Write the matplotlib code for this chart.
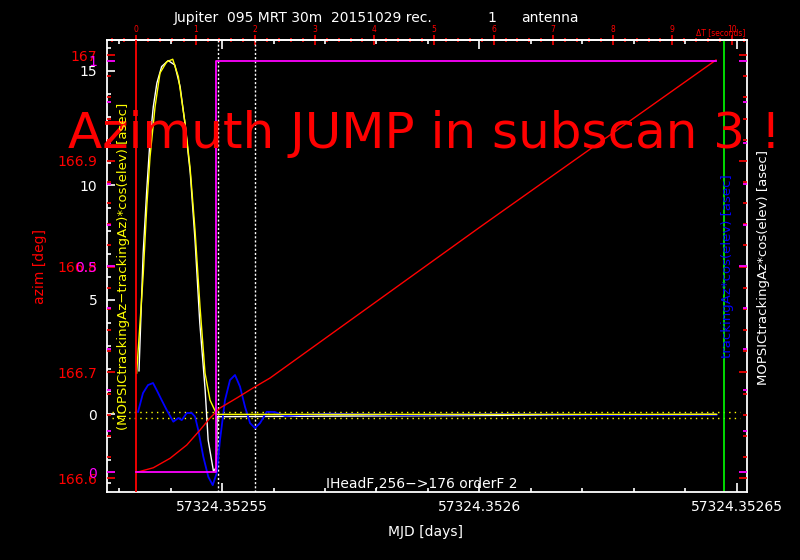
import matplotlib
matplotlib.use("Agg")
import matplotlib.pyplot as plt
from matplotlib.ticker import MultipleLocator, FixedLocator, FixedFormatter, FuncFormatter

# ---------------- data ----------------
mjd_start = 57324.3525333          # MJD at deltaT = 0 s
mjd_major = [57324.35255, 57324.3526, 57324.35265]
mjd_major_labels = ["57324.35255", "57324.3526", "57324.35265"]
mjd_minor_step = 0.00001
dt_ticks = list(range(0, 11))

# MOPSICtrackingAz*cos(elev) [asec]  (white)
white_t = [0.05, 0.12, 0.18, 0.235, 0.29, 0.35, 0.43, 0.54, 0.65, 0.74, 0.82, 0.91,
           0.99, 1.07, 1.16, 1.21, 1.30, 1.35, 1.36, 9.73]
white_v = [1.9, 7.05, 9.80, 11.98, 13.44, 14.47, 15.19, 15.45, 15.26, 14.31, 12.73, 10.54,
           7.61, 3.99, 1.06, -1.12, -2.49, -2.30, -0.10, 0.0]

# (MOPSICtrackingAz-trackingAz)*cos(elev) [asec]  (yellow)
yellow_t = [0.01, 0.067, 0.122, 0.18, 0.235, 0.319, 0.403, 0.515, 0.616, 0.71, 0.822,
            0.906, 0.99, 1.074, 1.158, 1.242, 1.354, 9.743]
yellow_v = [1.80, 3.99, 6.17, 9.06, 11.24, 13.43, 14.91, 15.40, 15.51, 14.75, 12.73,
            10.80, 8.05, 4.69, 1.80, 0.62, 0.0, 0.0]

# trackingAz*cos(elev) [asec]  (blue)
blue_t = [0.034, 0.117, 0.201, 0.285, 0.347, 0.431, 0.515, 0.626, 0.710, 0.767, 0.851,
          0.935, 0.990, 1.045, 1.129, 1.213, 1.287, 1.354, 1.409, 1.493, 1.577, 1.661,
          1.745, 1.829, 1.913, 1.997, 2.081, 2.193, 2.33, 2.50, 2.75, 3.26, 4.43, 6.11,
          7.79, 9.74]
blue_v = [0.11, 0.93, 1.28, 1.37, 1.06, 0.62, 0.19, -0.32, -0.16, -0.25, 0.06,
          0.06, -0.10, -0.69, -1.85, -2.73, -3.09, -2.56, -1.12, 0.62, 1.50, 1.72,
          1.21, 0.33, -0.38, -0.60, -0.38, 0.11, 0.10, -0.07, -0.03, 0.03, -0.03, 0.01,
          -0.03, -0.02]

# azim [deg]  (red)
red_t = [0.01, 0.29, 0.57, 0.851, 1.074, 1.242, 1.409, 1.690, 1.963, 2.248, 5.772, 9.732]
red_az = [166.6056, 166.6099, 166.6188, 166.6314, 166.6456, 166.6569, 166.6664,
          166.6758, 166.6853, 166.6947, 166.8374, 166.9953]

# subscan flag (magenta)
mag_t = [0.0, 1.342, 1.342, 9.732]
mag_v = [0, 0, 1, 1]
mag_ticks = [0, 0.5, 1]
mag_labels = ["0", "0.5", "1"]

tol_levels = [0.1, -0.15]
dotted_t = [1.381, 2.0]
start_t = 0.0
end_t = 9.871

# ---------------- figure ----------------
W, H = 800, 560
fig = plt.figure(figsize=(W / 100, H / 100), dpi=100, facecolor="black")
ax = fig.add_axes([107 / W, 68 / H, 640 / W, 452 / H])
ax.set_facecolor("black")
for s in ax.spines.values():
    s.set_color("white")
    s.set_linewidth(1.3)

xmin, xmax = -0.487, 10.252
ax.set_xlim(xmin, xmax)
ax.set_ylim(-3.39, 16.35)

def mjd2t(m):
    return (m - mjd_start) * 86400.0

maj = [mjd2t(m) for m in mjd_major]
minor = []
m = 57324.35253
while m < 57324.352652:
    tt = mjd2t(m)
    if xmin < tt < xmax:
        minor.append(tt)
    m += mjd_minor_step
ax.xaxis.set_major_locator(FixedLocator(maj))
ax.xaxis.set_major_formatter(FixedFormatter(mjd_major_labels))
ax.xaxis.set_minor_locator(FixedLocator(minor))
ax.tick_params(axis="x", which="both", direction="in", colors="white", top=True,
               bottom=True, labeltop=False, labelsize=10, pad=6)
ax.tick_params(axis="x", which="major", length=6.5, width=1.2)
ax.tick_params(axis="x", which="minor", length=3, width=1.2)

ax.yaxis.set_major_locator(MultipleLocator(5))
ax.yaxis.set_minor_locator(MultipleLocator(1))
ax.tick_params(axis="y", which="both", direction="in", colors="white", left=True,
               right=True, labelleft=True, labelright=False, labelsize=10, pad=7)
ax.tick_params(axis="y", which="major", length=5.5, width=1.2)
ax.tick_params(axis="y", which="minor", length=3, width=1.2)

# top axis : delta T seconds
sec = ax.secondary_xaxis("top")
sec.xaxis.set_major_locator(FixedLocator(dt_ticks))
sec.xaxis.set_minor_locator(MultipleLocator(0.2))
sec.tick_params(axis="x", which="both", direction="inout", colors="red", labelsize=5.5, pad=0.5)
sec.tick_params(axis="x", which="major", length=7, width=1.2)
sec.tick_params(axis="x", which="minor", length=3.5, width=1.2)
sec.spines["top"].set_color("white")
sec.spines["top"].set_linewidth(1.3)

# curves on main axis
ax.hlines(tol_levels, -0.40, 10.13, colors="yellow", linestyles=(0, (1, 3)), lw=1)
for d in dotted_t:
    ax.axvline(d, color="white", ls=(0, (1.5, 1.5)), lw=1)
ax.plot(white_t, white_v, color="white", lw=1)
ax.plot(blue_t, blue_v, color="#0000ff", lw=1.3)
ax.plot(yellow_t, yellow_v, color="yellow", lw=1)
ax.axvline(end_t, color="#00ff00", lw=1.2)

# red azim axis
axr = ax.twinx()
axr.set_ylim(166.587, 167.0142)
axr.yaxis.tick_left()
axr.yaxis.set_major_locator(MultipleLocator(0.1))
axr.yaxis.set_minor_locator(MultipleLocator(0.02))
axr.yaxis.set_major_formatter(FuncFormatter(lambda v, p: f"{v:.1f}".rstrip("0").rstrip(".")))
axr.tick_params(axis="y", which="both", direction="in", colors="red", left=True, right=True,
                labelleft=True, labelright=False, labelsize=10, pad=7)
axr.tick_params(axis="y", which="major", length=5.5, width=1.2)
axr.tick_params(axis="y", which="minor", length=3, width=1.2)
for s in axr.spines.values():
    s.set_visible(False)
axr.plot(red_t, red_az, color="red", lw=1)
axr.axvline(start_t, color="red", lw=1.3)

# magenta axis
axm = ax.twinx()
axm.set_ylim(-0.0479, 1.0503)
axm.yaxis.tick_left()
axm.yaxis.set_major_locator(FixedLocator(mag_ticks))
axm.yaxis.set_major_formatter(FixedFormatter(mag_labels))
axm.yaxis.set_minor_locator(MultipleLocator(0.1))
axm.tick_params(axis="y", which="both", direction="in", colors="magenta", left=True, right=True,
                labelleft=True, labelright=False, labelsize=10, pad=7)
axm.tick_params(axis="y", which="major", length=5.5, width=1.3)
axm.tick_params(axis="y", which="minor", length=3, width=1.3)
for s in axm.spines.values():
    s.set_visible(False)
axm.plot(mag_t, mag_v, color="magenta", lw=1.3)

# ---------------- texts ----------------
def fx(px):
    return px / W

def fy(py):
    return 1 - py / H

fig.text(fx(174), fy(18), "Jupiter  095 MRT 30m  20151029 rec.", color="white",
         fontsize=10, ha="left", va="center")
fig.text(fx(492), fy(18), "1", color="white", fontsize=10, ha="center", va="center")
fig.text(fx(521), fy(18), "antenna", color="white", fontsize=10, ha="left", va="center")
fig.text(fx(745), fy(33), "\u0394T [seconds]", color="red", fontsize=5.5, ha="right", va="center")
fig.text(fx(426), fy(532), "MJD [days]", color="white", fontsize=10, ha="center", va="center")
fig.text(fx(40), fy(266), "azim [deg]", color="red", fontsize=10, rotation=90,
         ha="center", va="center")
fig.text(fx(68), fy(148), "Azimuth JUMP in subscan 3 !", color="red", fontsize=36,
         ha="left", va="baseline", zorder=5)
fig.text(fx(123.5), fy(266), "(MOPSICtrackingAz\u2212trackingAz)*cos(elev) [asec]", color="yellow",
         fontsize=9.5, rotation=90, ha="center", va="center", zorder=6)
fig.text(fx(727), fy(266), "trackingAz*cos(elev) [asec]", color="#0000ff", fontsize=9.5,
         rotation=90, ha="center", va="center")
fig.text(fx(764), fy(267), "MOPSICtrackingAz*cos(elev) [asec]", color="white", fontsize=9.5,
         rotation=90, ha="center", va="center")
fig.text(fx(326), fy(484), "IHeadF,256\u2212>176 orderF 2", color="white", fontsize=10,
         ha="left", va="center")

fig.savefig("out.png", dpi=100, facecolor="black")
